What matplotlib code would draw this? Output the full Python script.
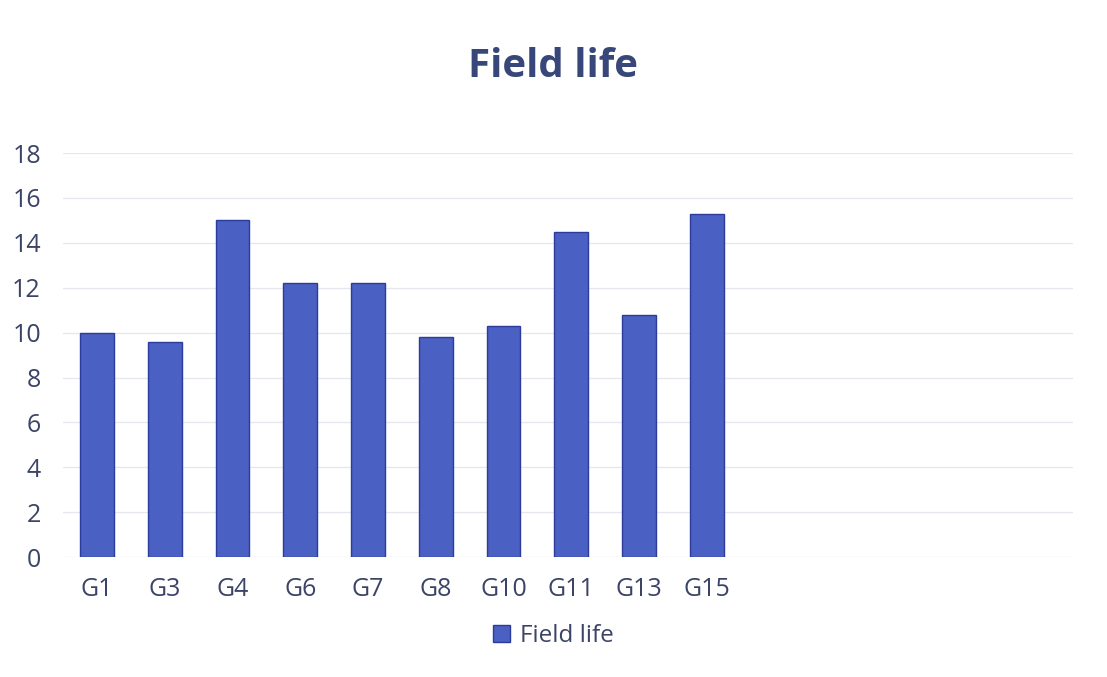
import matplotlib.pyplot as plt
import numpy as np

plt.rcParams["font.family"] = ["Open Sans", "DejaVu Sans"]

categories = ["G1", "G3", "G4", "G6", "G7", "G8", "G10", "G11", "G13", "G15"]
field_life = [10.0, 9.6, 15.0, 12.2, 12.2, 9.8, 10.3, 14.5, 10.8, 15.3]
yticks = [0, 2, 4, 6, 8, 10, 12, 14, 16, 18]

text_color = "#3b4466"
bar_color = "#4a60c2"
edge_color = "#2c3c9c"

fig = plt.figure(figsize=(11.07, 6.77), dpi=100)
ax = fig.add_axes([0.057, 0.177, 0.912, 0.597])

x = np.arange(len(categories))
ax.bar(x, field_life, width=0.5, color=bar_color, edgecolor=edge_color,
       linewidth=1.0, label="Field life", zorder=3)

# chart area is wider than the data, leaving empty slots on the right
ax.set_xlim(-0.5, 14.4)
ax.set_ylim(0, 18)
ax.set_yticks(yticks)
ax.set_xticks(x)
ax.set_xticklabels(categories)

ax.grid(axis="y", color="#e6e7ee", linewidth=0.9, zorder=0)
for side in ["top", "right", "left", "bottom"]:
    ax.spines[side].set_visible(False)
ax.tick_params(axis="both", length=0, labelsize=18, colors=text_color)
ax.tick_params(axis="y", pad=16)
ax.tick_params(axis="x", pad=14)

fig.suptitle("Field life", x=0.5, y=0.93, fontsize=29, fontweight="bold",
             color="#38477a")

fig.legend(loc="center", bbox_to_anchor=(0.5, 0.06), frameon=False,
           fontsize=17.5, labelcolor=text_color, handlelength=0.7,
           handleheight=0.7, handletextpad=0.4)

fig.savefig("out.png", dpi=100, facecolor="white")
